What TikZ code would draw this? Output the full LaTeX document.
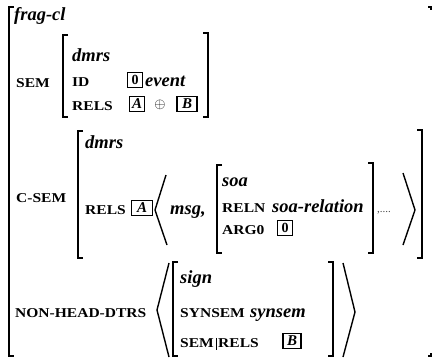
\documentclass[tikz,border=0pt]{standalone}
\usepackage{fontspec}
\setmainfont{Liberation Serif}
\newfontfamily\capsfont[FakeStretch=1.15]{Liberation Serif}

% parentesi quadre dell'AVM: x, y alto, y basso
\newcommand{\avmlbr}[3]{\draw[brk] (#1+5,#2) -- (#1,#2) -- (#1,#3) -- (#1+5,#3);}
\newcommand{\avmrbr}[3]{\draw[brk] (#1-5,#2) -- (#1,#2) -- (#1,#3) -- (#1-5,#3);}

\tikzset{
  feat/.style={anchor=base west, inner sep=0pt, font=\capsfont\fontsize{13.5}{16}\selectfont\bfseries},
  typ/.style={anchor=base west, inner sep=0pt, font=\fontsize{18.5}{22}\selectfont\bfseries\itshape},
  tagbox/.style={draw, line width=1.1pt, minimum width=15pt, minimum height=15pt, inner sep=0.5pt,
                 font=\fontsize{15}{16}\selectfont\bfseries\itshape},
  brk/.style={line width=1.8pt},
  angl/.style={line width=1.4pt}
}

\begin{document}
\begin{tikzpicture}[x=1pt, y=-1pt]
        \useasboundingbox (0,0) rectangle (435,359);

        % ==========================================
        % 1. AVM ESTERNO: frag-cl
        % ==========================================
        \avmlbr{9}{7}{356}
        \draw[brk] (428,7) -- (431,7) -- (431,10);
        \draw[brk] (431,353) -- (431,356) -- (428,356);
        \node[typ] (fragcl) at (14,20) {frag-cl};

        % ==========================================
        % 2. SEM
        % ==========================================
        \node[feat] (sem) at (16,87) {SEM};
        \avmlbr{63}{35}{117}
        \avmrbr{208}{33}{117}
        \node[typ] (semtype) at (72,61) {dmrs};
        \node[feat] (id) at (72,86) {ID};
        \node[tagbox, font=\fontsize{14}{15}\selectfont\bfseries] (tagzero) at (135,80) {0};
        \node[typ, anchor=base west] (event) at (145,86) {event};
        \node[feat] (semrels) at (72,110) {RELS};
        \node[tagbox] (taga) at (137,104) {A};
        \node[font=\fontsize{15}{16}\selectfont] (oplus) at (160,105) {$\oplus$};
        \node[tagbox, minimum width=20pt] (tagb) at (187,104) {B};

        % ==========================================
        % 3. C-SEM
        % ==========================================
        \node[feat] (csem) at (16,202) {C-SEM};
        \avmlbr{78}{131}{258}
        \avmrbr{422}{130}{258}
        \node[typ] (csemtype) at (85,148) {dmrs};
        \node[feat] (csemrels) at (85,214) {RELS};
        \node[tagbox, minimum width=21pt] (tagacsem) at (142,208) {A};
        \draw[angl] (166,175) -- (155,210) -- (167,245);
        \node[typ] (msg) at (170,214) {msg,};

        % soa
        \avmlbr{217}{165}{253}
        \avmrbr{373}{163}{253}
        \node[typ] (soa) at (222,186) {soa};
        \node[feat] (reln) at (222,212) {RELN};
        \node[typ] (soarel) at (272,212) {soa-relation};
        \node[feat] (arg) at (222,234) {ARG0};
        \node[tagbox, font=\fontsize{14}{15}\selectfont\bfseries] (tagzerob) at (285,228) {0};
        \node[anchor=base west, inner sep=0pt, font=\fontsize{11}{12}\selectfont, text=black!70] (etc) at (377,212) {,....};
        \draw[angl] (403,173) -- (415,210) -- (403,245);

        % ==========================================
        % 4. NON-HEAD-DTRS
        % ==========================================
        \node[feat] (nhd) at (15,317) {NON-HEAD-DTRS};
        \draw[angl] (169,263) -- (157,310) -- (169,357);
        \avmlbr{173}{262}{356}
        \avmrbr{333}{262}{356}
        \node[typ] (sign) at (180,283) {sign};
        \node[feat] (synsem) at (180,317) {SYNSEM};
        \node[typ] (synsemtype) at (250,317) {synsem};
        \node[feat] (sempath) at (180,347) {SEM};
        \draw[line width=0.6pt] (sempath.north east) ++(2,0) -- ++(0,12);
        \node[feat] (relspath) at (sempath.base east) [xshift=4pt] {RELS};
        \node[tagbox, minimum width=18pt] (tagbnhd) at (292,341) {B};
        \draw[angl] (343,263) -- (355,312) -- (343,357);

\end{tikzpicture}
\end{document}
